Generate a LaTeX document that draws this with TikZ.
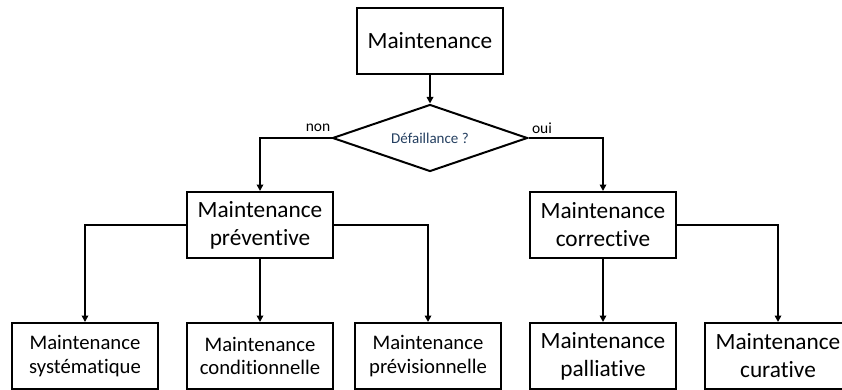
\documentclass[tikz,border=0pt]{standalone}
\usepackage{fontspec}
\setmainfont{Carlito}[RawFeature={-liga}]
\usetikzlibrary{shapes.geometric,arrows.meta}
\definecolor{qtext}{RGB}{36,63,96}
\tikzset{
  box/.style={draw, line width=2pt, rectangle, align=center, inner sep=0pt,
    minimum width=146pt, minimum height=66pt},
  bigtxt/.style={font=\fontsize{23.3}{28}\selectfont},
  smalltxt/.style={font=\fontsize{20.7}{23.5}\selectfont},
  decision/.style={draw, line width=2pt, diamond, aspect=3, inner sep=0pt,
    minimum width=195pt, minimum height=67pt, text=qtext,
    font=\fontsize{15}{18}\selectfont},
  arr/.style={line width=2pt, -{Triangle[width=6.5pt,length=6.5pt]}},
  lbl/.style={font=\fontsize{15.5}{18}\selectfont, inner sep=0pt}
}
\begin{document}
\begin{tikzpicture}[x=1pt,y=-1pt]
\useasboundingbox (0,0) rectangle (842,390);
\clip (0,0) rectangle (842,390);
\node[box,bigtxt] (top) at (430,41) {Maintenance};
\node[decision] (dia) at (430,138) {Défaillance ?};
\node[box,bigtxt] (prev) at (260,225) {Maintenance\\préventive};
\node[box,bigtxt] (corr) at (603,225) {Maintenance\\corrective};
\node[box,smalltxt] (b1) at (85,356) {Maintenance\\systématique};
\node[box,smalltxt] (b2) at (260,356) {Maintenance\\conditionnelle};
\node[box,smalltxt] (b3) at (428,356) {Maintenance\\prévisionnelle};
\node[box,bigtxt] (b4) at (603,356) {Maintenance\\palliative};
\node[box,bigtxt] (b5) at (778,356) {Maintenance\\curative};
\node[lbl] (non) at (318,128) {non};
\node[lbl] (oui) at (542,128) {oui};
\draw[arr] (top) -- (dia);
\draw[arr] (dia.west) -| (prev.north);
\draw[arr] (dia.east) -| (corr.north);
\draw[arr] (prev.west) -| (b1.north);
\draw[arr] (prev) -- (b2);
\draw[arr] (prev.east) -| (b3.north);
\draw[arr] (corr) -- (b4);
\draw[arr] (corr.east) -| (b5.north);
\end{tikzpicture}
\end{document}
